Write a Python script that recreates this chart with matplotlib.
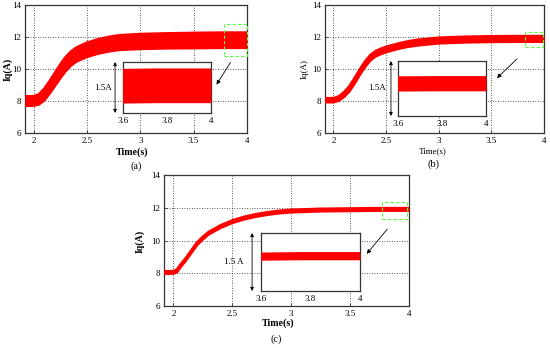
import numpy as np
import matplotlib
matplotlib.use("Agg")
import matplotlib.pyplot as plt
from matplotlib.patches import Rectangle, FancyArrowPatch

plt.rcParams['font.family'] = ['Liberation Serif', 'DejaVu Serif']

# ---- data ----
ta = [1.92, 2.0, 2.05, 2.1, 2.15, 2.2, 2.25, 2.3, 2.35, 2.4, 2.5, 2.6, 2.7, 2.8, 3.0, 3.25, 3.5, 3.75, 4.0]
a_mid = [8.0, 8.0, 8.1, 8.4, 8.85, 9.35, 9.85, 10.3, 10.65, 10.9, 11.2, 11.4, 11.55, 11.65, 11.72, 11.76, 11.78, 11.8, 11.8]
a_rip = [0.29, 0.29, 0.31, 0.35, 0.38, 0.40, 0.42, 0.43, 0.43, 0.43, 0.44, 0.44, 0.45, 0.45, 0.46, 0.46, 0.47, 0.47, 0.47]

tb = [1.92, 2.0, 2.05, 2.1, 2.15, 2.2, 2.25, 2.3, 2.35, 2.4, 2.45, 2.5, 2.6, 2.7, 2.8, 3.0, 3.25, 3.5, 3.75, 4.0]
b_mid = [8.05, 8.05, 8.15, 8.4, 8.75, 9.25, 9.8, 10.3, 10.7, 10.95, 11.1, 11.22, 11.4, 11.55, 11.65, 11.78, 11.84, 11.87, 11.88, 11.88]
b_rip = [0.12, 0.12, 0.13, 0.14, 0.15, 0.16, 0.16, 0.16, 0.16, 0.16, 0.16, 0.16, 0.16, 0.16, 0.17, 0.17, 0.17, 0.17, 0.17, 0.17]

tc = [1.92, 2.0, 2.03, 2.06, 2.1, 2.15, 2.2, 2.25, 2.3, 2.4, 2.5, 2.6, 2.7, 2.8, 2.9, 3.0, 3.25, 3.5, 3.75, 4.0]
c_mid = [8.05, 8.05, 8.15, 8.45, 8.8, 9.3, 9.8, 10.15, 10.45, 10.85, 11.15, 11.37, 11.53, 11.65, 11.74, 11.8, 11.86, 11.88, 11.9, 11.9]
c_rip = [0.07] * 20

xticks = [2, 2.5, 3, 3.5, 4]
xticklabels = ['2', '2.5', '3', '3.5', '4']
yticks = [6, 8, 10, 12, 14]
yticklabels = ['6', '8', '10', '12', '14']
inset_ticks = [3.6, 3.8, 4.0]
inset_ticklabels = ['3.6', '3.8', '4']

RED = '#ff0000'
GREEN = '#55ff33'
SPINE = '#333333'
GRID_LS = (0, (1, 2))

W, H = 550, 348
fig = plt.figure(figsize=(W / 100, H / 100), dpi=100)


def fr(l, t, r, b):
    return [l / W, 1 - b / H, (r - l) / W, (b - t) / H]


panels = [
    dict(t=ta, m=a_mid, r=a_rip, ax=(25, 5, 247, 133), ins=(123, 62, 211, 113),
         box=(3.78, 10.8, 4.0, 12.8), arr=((232, 60), (215, 87)), bold=True,
         lab='1.5A', labx=-0.23, arx=-0.09, cap='(a)', capxy=(136, 166),
         xl=(132, 152), yl=(8, 69)),
    dict(t=tb, m=b_mid, r=b_rip, ax=(325, 5, 544, 133), ins=(398, 61, 486, 116),
         box=(3.82, 11.37, 3.99, 12.31), arr=((519, 57), (495, 80)), bold=False,
         lab='1.5A', labx=-0.24, arx=-0.08, cap='(b)', capxy=(434, 164),
         xl=(433, 151), yl=(305, 69)),
    dict(t=tc, m=c_mid, r=c_rip, ax=(164, 175, 409, 306), ins=(261, 233, 360, 291),
         box=(3.77, 11.29, 3.98, 12.33), arr=((389, 227), (365, 256)), bold=True,
         lab='1.5 A', labx=-0.28, arx=-0.09, cap='(c)', capxy=(276, 339),
         xl=(278, 323), yl=(140, 241)),
]


def draw_band(ax, t, m, r):
    t = np.asarray(t)
    m = np.asarray(m)
    r = np.asarray(r)
    ax.fill_between(t, m - r, m + r, color=RED, lw=0, zorder=3)
    ax.plot(t, m + r, color=RED, lw=2, solid_capstyle='butt', zorder=3)
    ax.plot(t, m - r, color=RED, lw=2, solid_capstyle='butt', zorder=3)


for p in panels:
    ax = fig.add_axes(fr(*p['ax']))
    draw_band(ax, p['t'], p['m'], p['r'])
    ax.set_xlim(1.92, 4.0)
    ax.set_ylim(6, 14)
    ax.set_xticks(xticks)
    ax.set_xticklabels(xticklabels)
    ax.set_yticks(yticks)
    ax.set_yticklabels(yticklabels)
    ax.tick_params(direction='in', length=2, width=0.6, labelsize=6.5, pad=3,
                   colors=SPINE, labelcolor='black')
    ax.tick_params(axis='x', pad=3)
    ax.grid(True, color='#222222', linestyle=GRID_LS, lw=0.6)
    for s in ax.spines.values():
        s.set_color(SPINE)
        s.set_linewidth(0.9)
    # green zoom box
    x0, y0, x1, y1 = p['box']
    ax.add_patch(Rectangle((x0, y0), x1 - x0, y1 - y0, fill=False, ec=GREEN,
                           lw=0.8, ls=(0, (3, 2)), zorder=5, clip_on=False))
    wt = 'bold' if p['bold'] else 'normal'
    fs = 7.2 if p['bold'] else 6.5
    fig.text(p['xl'][0] / W, 1 - p['xl'][1] / H, 'Time(s)', ha='center', va='center',
             fontsize=fs, fontweight=wt)
    fig.text(p['yl'][0] / W, 1 - p['yl'][1] / H, 'Iq(A)', ha='center', va='center',
             fontsize=fs, fontweight=wt, rotation=90)
    fig.text(p['capxy'][0] / W, 1 - p['capxy'][1] / H, p['cap'], ha='center', va='center',
             fontsize=7.5)

    # inset
    ia = fig.add_axes(fr(*p['ins']))
    ia.set_facecolor('white')
    draw_band(ia, p['t'], p['m'], p['r'])
    ia.set_xlim(3.6, 4.0)
    ia.set_ylim(11.0, 12.5)
    ia.set_xticks(inset_ticks)
    ia.set_xticklabels(inset_ticklabels)
    ia.set_yticks([])
    ia.tick_params(axis='x', length=0, labelsize=6.5, pad=3)
    ia.set_xticks([3.8], minor=True)
    ia.tick_params(axis='x', which='minor', length=0)
    ia.grid(True, which='minor', axis='x', color='#222222', linestyle=GRID_LS, lw=0.6)
    for s in ia.spines.values():
        s.set_color(SPINE)
        s.set_linewidth(0.9)
    ia.set_zorder(6)
    # double arrow
    ia.annotate('', xy=(p['arx'], 1.0), xytext=(p['arx'], 0.0), xycoords='axes fraction',
                textcoords='axes fraction',
                arrowprops=dict(arrowstyle='<|-|>', color='black', lw=0.6,
                                mutation_scale=5, shrinkA=0, shrinkB=0),
                annotation_clip=False)
    ia.text(p['labx'], 0.5, p['lab'], transform=ia.transAxes, ha='center', va='center',
            fontsize=6.5)
    # pointing arrow
    (sx, sy), (ex, ey) = p['arr']
    fig.add_artist(FancyArrowPatch(
        (sx / W, 1 - sy / H), (ex / W, 1 - ey / H), transform=fig.transFigure,
        arrowstyle='-|>', mutation_scale=6, color='black', lw=0.6, zorder=10))

fig.savefig('out.png', dpi=100)
